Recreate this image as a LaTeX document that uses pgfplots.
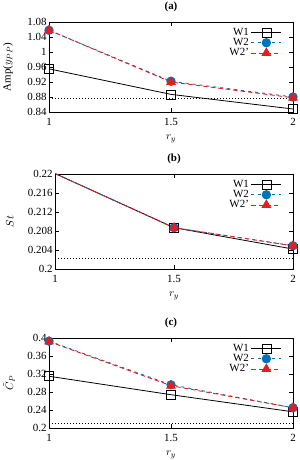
\documentclass[border=0pt]{standalone}
\usepackage{pgfplots}
\pgfplotsset{compat=1.18}
\usepackage{fontspec}
\setmainfont{Liberation Serif}
\definecolor{cblue}{RGB}{0,114,189}
\definecolor{cred}{RGB}{232,28,28}
\pgfplotsset{
  panel/.style={
    scale only axis, width=244bp, height=90bp,
    xmin=1, xmax=2, xtick={1,1.5,2},
    tick align=inside, major tick length=4bp,
    axis line style={line width=0.7bp}, every tick/.style={black, line width=0.6bp},
    font=\fontsize{11}{13}\selectfont,
    /pgf/number format/assume math mode=true,
    yticklabel style={/pgf/number format/fixed, /pgf/number format/precision=3, xshift=1bp},
    xticklabel style={/pgf/number format/fixed, yshift=-2.5bp},
    xlabel={$r_y$},
    xlabel style={anchor=center, at={(axis description cs:0.5,0)}, yshift=-27bp},
    title style={anchor=center, at={(axis description cs:0.5,1)}, yshift=9bp, font=\fontsize{11}{13}\selectfont\bfseries},
    legend style={at={(axis description cs:1,1)}, anchor=north east, draw=none, fill=none, font=\fontsize{11}{11}\selectfont,
      row sep=-2.5bp, xshift=-8bp, yshift=-2bp},
    legend cell align=right, legend plot pos=right,
    legend image code/.code={\draw[mark repeat=2,mark phase=2,##1] plot coordinates {(0bp,0bp)(15bp,0bp)(30bp,0bp)};},
  },
  w1/.style={black, line width=0.8bp, mark=square, mark size=4.5bp, mark options={solid, line width=0.7bp, fill=none}},
  w2/.style={cblue, line width=0.9bp, dash pattern=on 3bp off 4bp, mark=*, mark size=4.2bp, mark options={solid, draw=cblue, fill=cblue}},
  w2p/.style={cred, line width=0.9bp, dash pattern=on 4.5bp off 3bp, mark=triangle*, mark size=4.8bp, mark options={solid, draw=cred, fill=cred}},
  dotline/.style={black, line width=0.7bp, dash pattern=on 0.7bp off 2.3bp, forget plot},
}
\begin{document}
\begin{tikzpicture}
\useasboundingbox (0,0) rectangle (300bp,460bp);
% (a)
\begin{axis}[panel, at={(49bp,348bp)}, anchor=south west,
  title={(a)}, ymin=0.84, ymax=1.08, ytick={0.84,0.88,...,1.08},
  ylabel={Amp($y_{PP}$)},
  ylabel style={anchor=center, at={(axis description cs:0,0.5)}, yshift=41bp}]
\addplot[dotline] coordinates {(1,0.876) (2,0.876)};
\addplot[w1] coordinates {(1,0.955) (1.5,0.887) (2,0.848)};
\addplot[w2] coordinates {(1,1.058) (1.5,0.922) (2,0.880)};
\addplot[w2p] coordinates {(1,1.058) (1.5,0.920) (2,0.878)};
\legend{W1,W2,W2'}
\end{axis}
% (b)
\begin{axis}[panel, at={(55bp,191bp)}, anchor=south west, width=238bp, height=95bp,
  title={(b)}, ymin=0.2, ymax=0.22, ytick={0.2,0.204,...,0.221},
  ylabel={$St$},
  ylabel style={anchor=center, at={(axis description cs:0,0.5)}, yshift=45bp}]
\addplot[dotline] coordinates {(1,0.2022) (2,0.2022)};
\addplot[w1] coordinates {(1,0.2201) (1.5,0.2087) (2,0.2042)};
\addplot[w2] coordinates {(1,0.2201) (1.5,0.2087) (2,0.2049)};
\addplot[w2p] coordinates {(1,0.2201) (1.5,0.2087) (2,0.2049)};
\legend{W1,W2,W2'}
\end{axis}
% (c)
\begin{axis}[panel, at={(49bp,32bp)}, anchor=south west,
  title={(c)}, ymin=0.2, ymax=0.4, ytick={0.2,0.24,...,0.41},
  ylabel={$\tilde{C}_P$},
  ylabel style={anchor=center, at={(axis description cs:0,0.5)}, yshift=40bp}]
\addplot[dotline] coordinates {(1,0.21) (2,0.21)};
\addplot[w1] coordinates {(1,0.315) (1.5,0.274) (2,0.236)};
\addplot[w2] coordinates {(1,0.393) (1.5,0.296) (2,0.245)};
\addplot[w2p] coordinates {(1,0.392) (1.5,0.294) (2,0.245)};
\legend{W1,W2,W2'}
\end{axis}
\end{tikzpicture}
\end{document}
